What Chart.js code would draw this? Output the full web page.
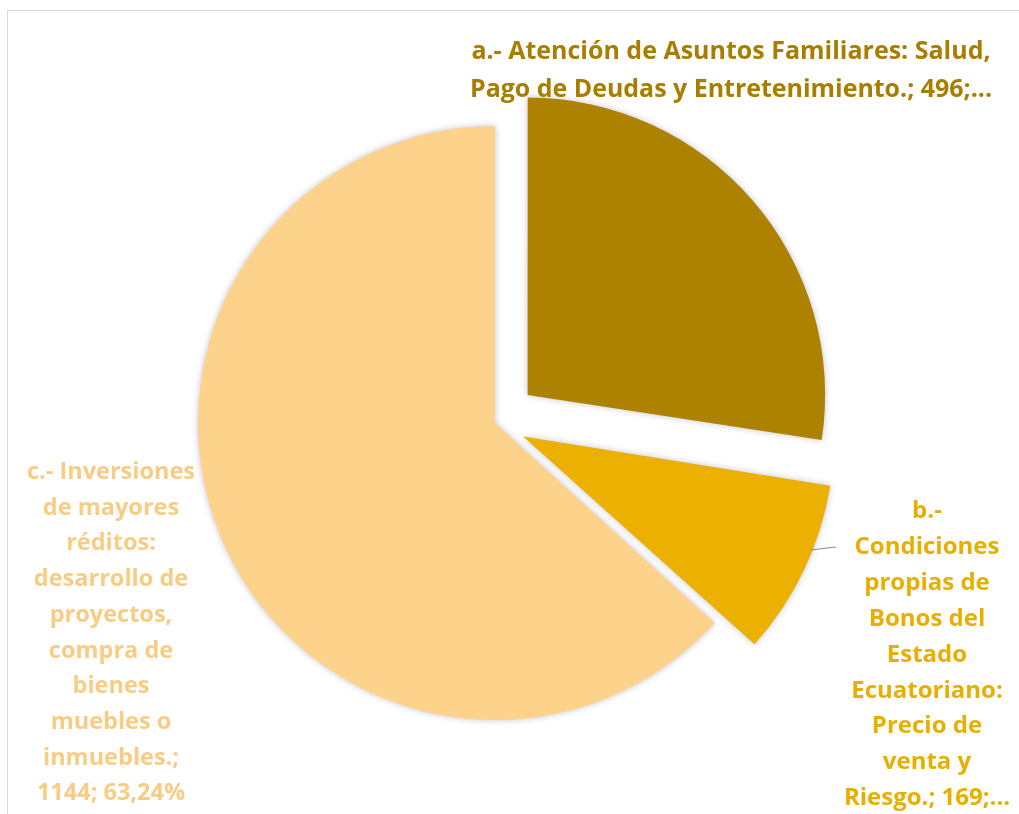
<!DOCTYPE html>
<html lang="es">
<head>
<meta charset="utf-8">
<title>Razones de venta de Bonos del Estado</title>
<script src="https://cdn.jsdelivr.net/npm/chart.js@4/dist/chart.umd.min.js"></script>
<style>
    html, body { margin: 0; padding: 0; background: #ffffff; }
    #wrap { position: relative; width: 1019px; height: 814px; overflow: hidden; }
</style>
</head>
<body>
<div id="wrap">
    <canvas id="pieChart" width="1019" height="814"></canvas>
</div>
<script>
// Data
const categories = [
    'a.- Atención de Asuntos Familiares: Salud, Pago de Deudas y Entretenimiento.',
    'b.- Condiciones propias de Bonos del Estado Ecuatoriano: Precio de venta y Riesgo.',
    'c.- Inversiones de mayores réditos: desarrollo de proyectos, compra de bienes muebles o inmuebles.'
];
const values = [496, 169, 1144];
const sliceColors = ['#ad8200', '#ebb000', '#fdd28b'];
const labelColors = ['#a87d00', '#e8ae00', '#f9cc84'];
const explode = [172, 125, 0];

// Data labels as Excel wrapped them (truncated ones end with "...")
const labelLines = [
    ['a.- Atención de Asuntos Familiares: Salud,', 'Pago de Deudas y Entretenimiento.; 496;...'],
    ['b.-', 'Condiciones', 'propias de', 'Bonos del', 'Estado', 'Ecuatoriano:', 'Precio de', 'venta y', 'Riesgo.; 169;...'],
    ['c.- Inversiones', 'de mayores', 'réditos:', 'desarrollo de', 'proyectos,', 'compra de', 'bienes', 'muebles o', 'inmuebles.;', '1144; 63,24%']
];
// text block placement: centre x, first baseline, line step, font size, max line width
const labelPlace = [
    { x: 731, y: 59, step: 37.5, size: 25, max: 522 },
    { x: 927, y: 518, step: 35.9, size: 24, max: 170 },
    { x: 111, y: 479, step: 35.7, size: 23.5, max: 176 }
];

const sliceShadow = {
    id: 'sliceShadow',
    beforeDatasetsDraw(chart) {
        const ctx = chart.ctx;
        ctx.save();
        ctx.shadowColor = 'rgba(80, 80, 120, 0.35)';
        ctx.shadowBlur = 6;
    },
    afterDatasetsDraw(chart) {
        chart.ctx.restore();
    }
};

const frameAndLabels = {
    id: 'frameAndLabels',
    beforeDraw(chart) {
        const ctx = chart.ctx;
        ctx.save();
        ctx.strokeStyle = '#d9d9d9';
        ctx.lineWidth = 1;
        ctx.strokeRect(7.5, 10.5, 1030, 830);
        ctx.restore();
    },
    afterDraw(chart) {
        const ctx = chart.ctx;
        ctx.save();
        ctx.textAlign = 'center';
        ctx.textBaseline = 'alphabetic';

        labelLines.forEach((lines, i) => {
            const p = labelPlace[i];
            ctx.fillStyle = labelColors[i];
            ctx.font = `bold ${p.size}px "Open Sans", Lato, sans-serif`;
            lines.forEach((line, j) => {
                ctx.fillText(line, p.x, p.y + j * p.step, p.max);
            });
        });

        // leader line of slice b, starting on its outer edge
        const arc = chart.getDatasetMeta(0).data[1];
        const mid = (arc.startAngle + arc.endAngle) / 2;
        const shift = explode[1] / 4;
        const sx = arc.x + Math.cos(mid) * shift;
        const sy = arc.y + Math.sin(mid) * shift;
        const r = arc.outerRadius + shift * (1 - Math.sin(arc.circumference));
        const ang = Math.asin((550 - sy) / r);
        const ex = sx + Math.cos(ang) * r;
        ctx.strokeStyle = '#8c8c8c';
        ctx.lineWidth = 1.2;
        ctx.beginPath();
        ctx.moveTo(ex - 2, 550);
        ctx.lineTo(836, 547);
        ctx.stroke();
        ctx.restore();
    }
};

new Chart(document.getElementById('pieChart'), {
    type: 'pie',
    data: {
        labels: categories,
        datasets: [{
            data: values,
            backgroundColor: sliceColors,
            borderWidth: 0,
            offset: explode,
            radius: 297
        }]
    },
    options: {
        responsive: false,
        animation: false,
        layout: { padding: { left: 0, right: 29, top: 32, bottom: 0 } },
        plugins: {
            legend: { display: false },
            tooltip: { enabled: false }
        }
    },
    plugins: [sliceShadow, frameAndLabels]
});
</script>
</body>
</html>
